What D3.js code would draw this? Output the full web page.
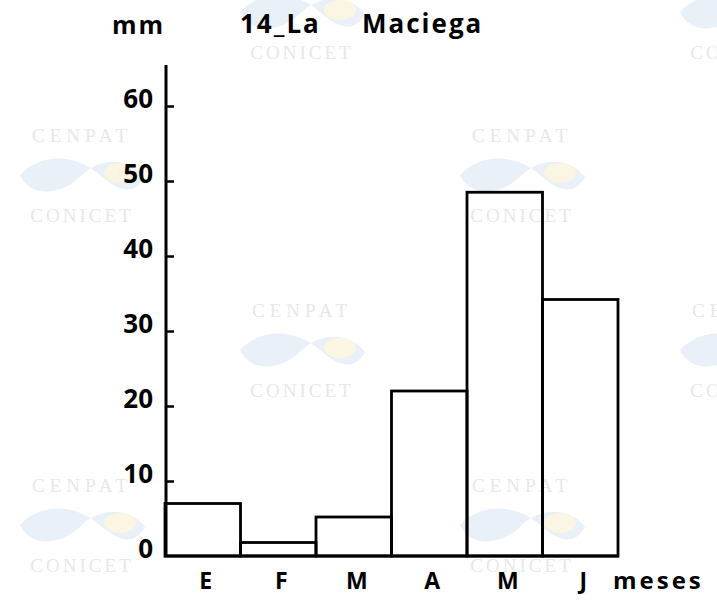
<!DOCTYPE html>
<html>
<head>
<meta charset="utf-8">
<script src="https://cdn.jsdelivr.net/npm/d3@7"></script>
<style>
  body { margin: 0; background: #fff; }
  text { font-family: "Open Sans", "DejaVu Sans", sans-serif; }
</style>
</head>
<body>
<script>
// months (Spanish initials) and monthly rainfall in mm
var months = ["E", "F", "M", "A", "M", "J"];
var rain = [7, 1.8, 5.2, 22, 48.5, 34.2];
var yTicks = [0, 10, 20, 30, 40, 50, 60];

// watermark tiles of the scan: two staggered columns pairs
var marks = [[20, 135], [20, 485], [460, 135], [460, 485],
             [240, -28], [240, 310], [680, -28], [680, 310]];

var svg = d3.select("body").append("svg")
            .attr("width", 717)
            .attr("height", 606);

// faint CENPAT / CONICET watermarks
var wm = svg.selectAll("g.wm")
    .data(marks)
    .enter().append("g")
              .attr("class", "wm")
              .attr("transform", function(d){ return "translate(" + d[0] + "," + d[1] + ")"; });
wm.append("path")
    .attr("d", "M0,40 C20,18 55,18 80,40 C100,58 115,60 125,42 C110,22 80,22 62,40 C40,62 10,62 0,40 Z")
    .attr("fill", "#eaf0f7");
wm.append("ellipse")
    .attr("cx", 100).attr("cy", 38)
    .attr("rx", 16).attr("ry", 10)
    .attr("fill", "#fbf5e3");
wm.append("text")
    .attr("x", 62).attr("y", 7)
    .attr("text-anchor", "middle")
    .style("font-family", "'Liberation Serif', serif")
    .attr("font-size", 19)
    .attr("letter-spacing", 5)
    .attr("fill", "#e8e8e8")
    .text("CENPAT");
wm.append("text")
    .attr("x", 62).attr("y", 87)
    .attr("text-anchor", "middle")
    .style("font-family", "'Liberation Serif', serif")
    .attr("font-size", 19)
    .attr("letter-spacing", 3)
    .attr("fill", "#e8e8e8")
    .text("CONICET");

var x = d3.scaleBand()
          .domain(d3.range(months.length))
          .range([165, 618])
          .padding(0);

var y = d3.scaleLinear()
          .domain([0, 60])
          .range([556, 106]);

// bars
svg.selectAll("rect.bar")
    .data(rain)
    .enter().append("rect")
              .attr("class", "bar")
              .attr("x", function(d,i){ return x(i); })
              .attr("y", function(d){ return y(d); })
              .attr("width", x.bandwidth())
              .attr("height", function(d){ return y(0) - y(d); })
              .attr("fill", "none")
              .attr("stroke", "#000")
              .attr("stroke-width", 2.8);

// y axis
var yAxis = d3.axisRight(y)
              .tickValues(yTicks.slice(1))
              .tickSize(8)
              .tickFormat("");
var ga = svg.append("g")
    .attr("transform", "translate(166,0)")
    .call(yAxis);
ga.select(".domain").remove();
ga.selectAll("line").attr("stroke", "#000").attr("stroke-width", 2.5);

svg.append("line")
    .attr("x1", 166).attr("x2", 166)
    .attr("y1", 65).attr("y2", y(0) + 1)
    .attr("stroke", "#000")
    .attr("stroke-width", 3);

svg.append("line")
    .attr("x1", 164).attr("x2", 619)
    .attr("y1", y(0)).attr("y2", y(0))
    .attr("stroke", "#000")
    .attr("stroke-width", 3);

// tick labels
svg.selectAll("text.ylab")
    .data(yTicks)
    .enter().append("text")
              .attr("class", "ylab")
              .attr("x", 153)
              .attr("y", function(d){ return y(d) + 2; })
              .attr("text-anchor", "end")
              .attr("font-size", 26)
              .attr("font-weight", 700)
              .text(function(d){ return d; });

svg.selectAll("text.xlab")
    .data(months)
    .enter().append("text")
              .attr("class", "xlab")
              .attr("x", function(d,i){ return x(i) + x.bandwidth()/2 + 3; })
              .attr("y", 589)
              .attr("text-anchor", "middle")
              .attr("font-size", 23)
              .attr("font-weight", 700)
              .text(function(d){ return d; });

svg.append("text")
    .attr("x", 613)
    .attr("y", 589)
    .attr("font-size", 24)
    .attr("font-weight", 700)
    .attr("letter-spacing", 3)
    .text("meses");

// title
svg.append("text")
    .attr("x", 112)
    .attr("y", 34)
    .attr("font-size", 25)
    .attr("font-weight", 700)
    .attr("letter-spacing", 2)
    .text("mm");

svg.append("text")
    .attr("x", 240)
    .attr("y", 33)
    .attr("font-size", 26)
    .attr("font-weight", 700)
    .attr("letter-spacing", 2)
    .text("14_La");

svg.append("text")
    .attr("x", 362)
    .attr("y", 33)
    .attr("font-size", 26)
    .attr("font-weight", 700)
    .attr("letter-spacing", 2)
    .text("Maciega");
</script>
</body>
</html>
